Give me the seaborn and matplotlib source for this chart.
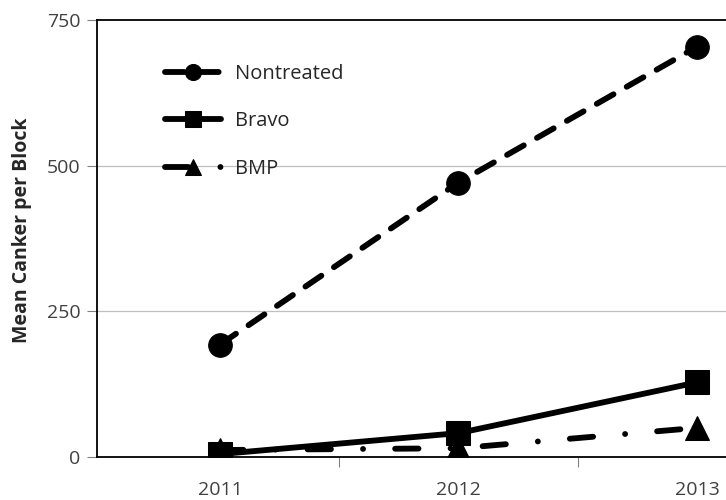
import matplotlib
matplotlib.use("Agg")
import matplotlib.pyplot as plt
import seaborn as sns
import pandas as pd

years = ["2011", "2012", "2013"]
nontreated = [193, 471, 704]
bravo = [5, 41, 128]
bmp = [12, 15, 50]
series_names = ["Nontreated", "Bravo", "BMP"]
y_ticks = [0, 250, 500, 750]

df = pd.DataFrame({
    "Year": years * 3,
    "Value": nontreated + bravo + bmp,
    "Treatment": [n for n in series_names for _ in years],
})

sns.set_theme(style="white")
plt.rcParams["font.family"] = ["Open Sans", "DejaVu Sans"]

fig = plt.figure(figsize=(7.26, 5.0), dpi=100)
ax = fig.add_axes([97 / 726, 43 / 500, 629 / 726, 437 / 500])

sns.lineplot(
    data=df, x="Year", y="Value", hue="Treatment", style="Treatment",
    palette={n: "black" for n in series_names},
    markers={"Nontreated": "o", "Bravo": "s", "BMP": "^"},
    dashes={"Nontreated": (3.3, 2.6), "Bravo": "", "BMP": (4.0, 5.5, 0.01, 5.5)},
    linewidth=4.2, markersize=17, markeredgecolor="black", ax=ax,
    sort=False, legend="full",
)
for ln in ax.get_lines():
    ln.set_dash_capstyle("round")
    ln.set_solid_capstyle("round")

ax.set_xlim(-0.516, 2.122)
ax.set_ylim(0, 750)
ax.set_yticks(y_ticks)
ax.set_yticklabels([str(t) for t in y_ticks], color="#404040", fontsize=14)
ax.set_xticks([0, 1, 2])
ax.set_xticklabels(years, color="#404040", fontsize=14)
ax.tick_params(axis="x", length=0, pad=17)
ax.tick_params(axis="y", length=7, width=0.8, color="#808080", direction="out", pad=5, left=True)
ax.set_xticks([0.5, 1.5], minor=True)
ax.tick_params(axis="x", which="minor", length=7, width=0.8, color="#808080", direction="out", bottom=True)

for v in [250, 500]:
    ax.axhline(v, color="#bfbfbf", lw=0.9, zorder=0)

for s in ["left", "bottom", "top"]:
    ax.spines[s].set_visible(True)
    ax.spines[s].set_color("black")
    ax.spines[s].set_linewidth(1.3)
ax.spines["right"].set_visible(False)

ax.set_xlabel("")
ax.set_ylabel("Mean Canker per Block", fontsize=14, fontweight="bold")
ax.yaxis.set_label_coords(-0.103, 0.519)

handles, labels = ax.get_legend_handles_labels()
leg = ax.legend(handles, labels, loc="upper left", bbox_to_anchor=(0.095, 0.918),
                borderaxespad=0, frameon=False, fontsize=14.5, handlelength=2.8,
                labelspacing=1.36, handletextpad=0.7, markerscale=0.68)
for t in leg.get_texts():
    t.set_color("#262626")
for h in leg.legend_handles:
    try:
        h.set_dash_capstyle("round")
    except Exception:
        pass

fig.savefig("out.png", dpi=100)
